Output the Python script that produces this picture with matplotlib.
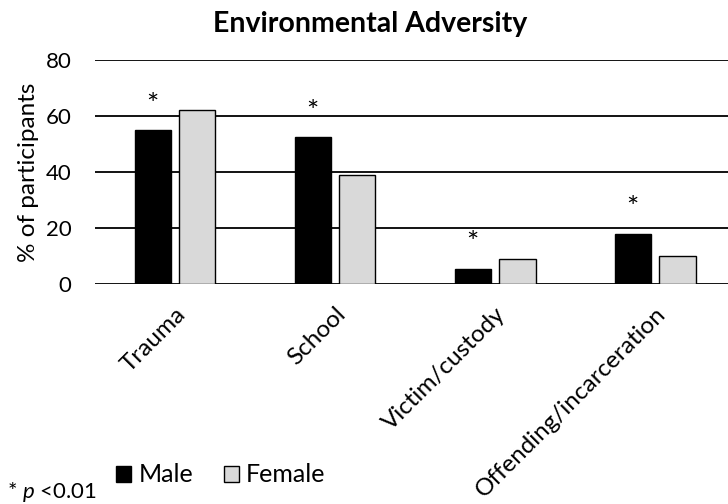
import numpy as np
import matplotlib
matplotlib.use("Agg")
import matplotlib.pyplot as plt
from matplotlib.patches import Patch

plt.rcParams['font.family'] = ['Lato', 'DejaVu Sans']
plt.rcParams['mathtext.fontset'] = 'custom'
plt.rcParams['mathtext.rm'] = 'Lato'
plt.rcParams['mathtext.it'] = 'Lato:italic'

categories = ["Trauma", "School", "Victim/custody", "Offending/incarceration"]
male = [55, 52.5, 5.5, 18]
female = [62, 39, 9, 10]
significant = [True, True, True, True]
yticks = [0, 20, 40, 60, 80]

fig = plt.figure(figsize=(7.28, 5.04), dpi=100)
ax = fig.add_axes([0.1305, 0.4365, 0.8695, 0.4445])

x = np.arange(len(categories))
w = 0.226
off = 0.14

# gridlines first so the bars sit on top
for t in yticks:
    ax.axhline(t, color='black', lw=1.3, zorder=1)

ax.bar(x - off, male, w, color='black', edgecolor='black', lw=1.0, zorder=3, label='Male')
ax.bar(x + off, female, w, color='#d9d9d9', edgecolor='black', lw=1.0, zorder=3, label='Female')

# significance markers above the male bars
for xi, m, s in zip(x, male, significant):
    if s:
        ax.annotate('*', (xi - off, m), xytext=(0, 17.5), textcoords='offset points',
                    ha='center', va='center', fontsize=21)

ax.set_xlim(-0.5, 3.456)
ax.set_ylim(0, 80)
ax.set_yticks(yticks)
ax.tick_params(axis='y', length=0, labelsize=16, pad=17)
ax.set_xticks(x)
ax.set_xticklabels(categories, rotation=45, ha='right', rotation_mode='anchor', fontsize=17.5)
ax.tick_params(axis='x', length=0, pad=14)
for sp in ax.spines.values():
    sp.set_visible(False)

ax.set_ylabel('% of participants', fontsize=17.5, labelpad=5)
ax.set_title('Environmental Adversity', fontsize=20.5, fontweight='bold', pad=20, x=0.434)

handles = [Patch(facecolor='black', edgecolor='black', label='Male'),
           Patch(facecolor='#d9d9d9', edgecolor='black', label='Female')]
fig.legend(handles=handles, loc='center', bbox_to_anchor=(221 / 728, 1 - 475 / 504),
           ncol=2, frameon=False, fontsize=18, handlelength=0.6, handleheight=0.6,
           handletextpad=0.3, columnspacing=1.2)

fig.text(7 / 728, 0.012, r'* $p$ <0.01', fontsize=16, ha='left', va='baseline')

fig.savefig('out.png', dpi=100)
